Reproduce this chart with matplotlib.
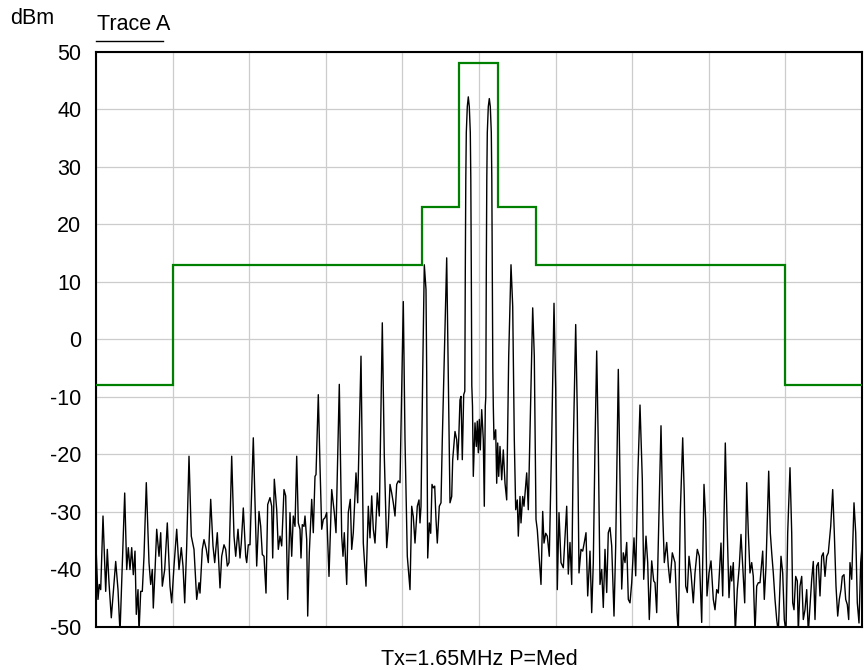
import matplotlib
matplotlib.use("Agg")
import matplotlib.pyplot as plt
from matplotlib.lines import Line2D

plt.rcParams["font.family"] = ["Liberation Sans", "DejaVu Sans"]
plt.rcParams["axes.unicode_minus"] = False

# Measured spectrum (trace bin, level in dBm)
freq_bin = [
    0, 2, 3.3, 4.7, 7, 9.7, 11.3, 13, 15.3, 19.7, 22, 24, 28.7, 30.7, 32.3, 34, 35.7, 37.3, 39, 40.3,
    42, 43, 44.7, 46.3, 48, 50.3, 53, 54.7, 56.3, 57.3, 59, 60.7, 63, 64.7, 66.3, 68.7, 71.3, 74, 75.7, 78,
    80.7, 83, 85.3, 87, 88.7, 90.7, 93, 95.3, 98, 100.7, 103, 104, 106.3, 108, 110.3, 112.3, 114.7, 117, 118.7, 121.3,
    124, 125.7, 128, 129.7, 131.3, 133, 135.7, 138, 139.7, 142, 144, 145.3, 147.3, 149.7,
    150.7, 152.3, 154, 157.3, 160.7, 163, 164.7, 166.3, 168, 170, 171.7, 174, 175.7, 176.7, 178.3, 180.7, 182.3, 184, 185.7, 188,
    189.7, 191.7, 194, 195.7, 197.3, 199, 200.7, 202.3, 204, 205, 206.3, 208, 209, 210.7, 211.7, 213.3, 215.7, 217.3, 219, 220,
    222.3, 224, 225.7, 227.3, 229, 230.7, 233, 235.7, 238.3, 240, 243.3, 245.7, 247, 248.3, 250.7, 252.3, 254.3, 255.7, 257.3, 260,
    261.7, 265, 267.3, 270, 272.3, 274, 275.7, 277.3, 279, 281.3, 283.3, 286.3, 288.3, 290.7, 292.3, 294, 295.7, 297.3, 299, 300.7,
    302.3, 304,
    307.3, 309, 311.3, 314, 315.7, 317.3, 319, 321.3, 323, 324, 325, 326.7, 328.3, 330, 330.7, 331.7, 333.3, 334.7, 336, 337.3,
    338.7, 340, 341.3, 343.3, 345, 346.3, 348.3, 350.7, 352.3, 354, 355.7, 356.7, 359, 360.7, 361.7, 362.7, 364, 365, 366.3, 367.7,
    368.8, 369.3, 369.8, 370.3, 371.3, 372.3, 373.3, 374.3, 374.8, 375.3, 375.8, 376.5, 377.3, 379, 380.3, 381.3, 382.3, 383.3, 384.3, 385.7,
    387.3, 388.3, 389.3, 389.8, 390.3, 390.8, 391.3, 392.3, 393.3, 394.3, 395.3, 395.8, 396.3, 396.8, 397.3, 398, 399.7, 400.7, 401.7, 402.7,
    404, 405.7, 407.3, 409, 410.7, 412.7, 415, 416.7, 418.3, 419.7, 421.3, 422.3, 424, 425, 426.7, 428, 429.3, 430.7, 432.3, 434,
    436.7, 438.3, 440, 441.3, 443.3, 445, 446.7, 448, 449.7, 451.3, 453.3, 455.7, 458, 459.7, 461.3,
    463, 465, 467.3, 470.7, 472.3, 474, 475.7, 477.3, 479.7, 481.3, 483, 485, 486.7, 488.3, 490, 491.7, 494, 495.7, 497.3, 499,
    500.7, 502.3, 504, 505.7, 507.3, 509, 510.7, 512.3, 514, 515.7, 518, 519.7, 522.3, 524, 525.7, 527.3, 529, 530.7, 532.3, 534,
    535.7, 538, 539.7, 541.7, 544, 546.3, 547.7, 550, 551.7, 553.3, 555.7, 557.7, 559, 560.7, 563, 565, 566.7, 568.3, 570.7, 572.3,
    574, 576.3, 579, 581, 582.3, 584.3, 586.7, 588.3, 589.7, 591.3, 593, 595, 597.3, 599, 601.3, 603.3, 605.7, 608, 609.7, 611,
    613, 615,
    617.3, 619, 620.7, 622.3, 625, 626.7, 629.3, 631.3, 633, 634.7, 635.7, 637.3, 639.3, 641.3, 643.3, 645, 646.7, 648.7, 650.7, 652.3,
    654, 655.7, 657.3, 659, 660.7, 662.3, 664, 666.7, 668.3, 670, 672.7, 674.3, 675.7, 677.3, 679, 680.7, 682.3, 685, 686.7, 688.3,
    690, 691.7, 694, 695.7, 696.7, 698, 699.7, 701.3, 702.3, 704, 705.7, 707.3, 709, 710.7, 712.3, 714, 715.7, 717.3, 719, 720.7,
    722.3, 724, 725.7, 727.3, 729, 730.7, 732.3, 734.7, 736.7, 738.3, 740, 741.7, 743.3, 745, 746.3, 748, 749.7, 751.3, 752.7, 754,
    755.7, 758, 759.7, 761.3, 763, 764.7, 766,
]
level_dbm = [
    -35.9, -45.2, -42.6, -43.5, -30.7, -43.8, -36.5, -42.3, -48.4, -38.6, -43.5, -51, -26.7, -40, -36.2, -40, -36.2, -40.9, -36.8, -47.8,
    -43.5, -51, -43.8, -43.8, -37.7, -24.9, -38.8, -42.6, -40, -46.7, -40.3, -33, -37.7, -33.6, -42.9, -40, -31.9, -42.9, -45.8, -39.4,
    -33, -40, -36.2, -39.4, -45.8, -35.9, -20.3, -34.2, -36.5, -45.2, -42.3, -44.1, -36.5, -34.8, -36.5, -38.8, -27.8, -35.9, -38.8, -33.6,
    -43.2, -37.7, -35.7, -36.5, -39.4, -38.8, -20.3, -34.2, -37.7, -33, -38, -35.4, -29.3, -37.7,
    -38.8, -35.7, -35.7, -17.1, -39.4, -29.9, -32.5, -37.4, -37.7, -44.1, -28.7, -27.5, -29, -38, -24.3, -29.6, -36.5, -34.2, -35.9, -26.1,
    -27.2, -45.2, -30.1, -37.7, -30.7, -32.5, -20.3, -31.9, -33, -38, -32.2, -32.5, -30.7, -34.8, -48.1, -37.1, -27.8, -33.6, -23.8, -23.5,
    -9.6, -22, -33, -31.3, -31, -30.1, -41.2, -26.1, -30.1, -33.6, -7.8, -34.2, -37.7, -33.6, -42.6, -30.1, -27.8, -36.5, -33.6, -23.2,
    -28.4, -2.9, -35.4, -42.9, -29, -34.5, -27.2, -33, -35.4, -26.7, -30.7, 2.9, -20.3, -36.2, -32.5, -25.2, -26.7, -28.4, -30.7, -25.2,
    -24.6, -24.9,
    6.6, -17.4, -37.7, -43.5, -29, -30.8, -35.4, -29, -27.9, -31.9, -29, -5.8, 13, 8.7, -5.8, -38, -31.9, -33.7, -25.2, -25.8,
    -25.5, -31.3, -35.4, -29, -28.4, -17.4, -2.9, 14.2, -5.8, -28.4, -27.3, -20.9, -16, -17.4, -20.9, -17.4, -10.5, -9.9, -20.9, -9.6,
    -9, 12, 28, 36, 40.5, 42.2, 40.5, 36, 28, 12, -8, -11.6, -23.8, -14.5, -18.6, -14.2, -19.7, -13.9, -19.2, -12.2,
    -17.4, -29, -11.6, -10, 12, 28, 36, 40.5, 41.9, 40.5, 36, 28, 12, -5, -11.6, -17.4, -15.7, -25, -18, -23.8,
    -18.6, -24.4, -19.2, -25, -27.9, -2.9, 13, 5.8, -17.4, -29.6, -27.9, -34.2, -27.3, -31.9, -27.3, -29, -26.1, -23.2, -29.6, -15.7,
    5.5, -2.9, -31.3, -33.1, -38.3, -42.6, -29.9, -35.4, -33.7, -34.2, -37.7, -17.4, 6.3, -8.7, -43.5,
    -30.1, -38.8, -39.7, -29, -40.8, -35.3, -42.6, -18.5, 2.6, -12.7, -40.6, -36.5, -36.8, -35.3, -33.6, -44.6, -36.8, -47.5, -38.8, -18.5,
    -2, -18.5, -42.6, -40, -46.6, -36.5, -44, -33.6, -32.7, -35.9, -48.1, -35.9, -5.2, -24.3, -43.4, -37.1, -38.8, -35.3, -45.2, -45.8,
    -42.3, -34.5, -41.1, -24.3, -11.4, -24.3, -41.7, -34.2, -38.8, -48.7, -38.5, -42, -42.3, -47.5, -30.1, -15, -30.1, -38.8, -35.3, -39.4,
    -42.3, -37.1, -38.8, -47.5, -51, -30.1, -17.1, -27.2, -42.9, -44, -37.7, -40.6, -45.8, -40.6, -36.5, -37.7, -49.2, -25.2, -31.3, -44.6,
    -40.6, -38.5,
    -45.2, -47, -43.5, -44.1, -35.4, -44.6, -18, -33.6, -44.9, -39.4, -42, -38.8, -51, -43.5, -39.4, -33.9, -39.4, -45.8, -24.9, -33.6,
    -40.6, -38.8, -41.2, -51, -42.9, -42.3, -42.3, -36.8, -45.2, -39.4, -22.9, -33.6, -37.1, -40.6, -45.2, -48.7, -51, -37.7, -40.6, -48.7,
    -51, -33.6, -22.3, -33.6, -45.8, -47, -41.2, -42, -51, -42.9, -41.2, -48.7, -47, -43.5, -51, -46.4, -41.7, -38.6, -48.7, -39.4,
    -38.8, -44.6, -37.7, -37.1, -41.2, -37.7, -37.1, -32.5, -26.1, -33.6, -42.9, -48.1, -45.2, -43.5, -41.2, -40.9, -45.2, -46.1, -48.7, -38.8,
    -41.7, -28.4, -33.6, -45.8, -49.3, -38.8, -36,
]

# Spectral emission limit mask
mask_edges = [0, 76.6, 325.7, 363.3, 402.2, 440.3, 689.4, 766]
mask_levels = [-8, 13, 23, 48, 23, 13, -8]

span_bins = 766
y_ticks = [50, 40, 30, 20, 10, 0, -10, -20, -30, -40, -50]

fig = plt.figure(figsize=(8.66, 6.70), dpi=100)
ax = fig.add_axes([96 / 866, 1 - 627 / 670, 766 / 866, 575 / 670])

ax.plot(freq_bin, level_dbm, color="black", lw=1.0, zorder=3)
ax.stairs(mask_levels, mask_edges, baseline=None, color="#008000", lw=1.6, zorder=4)

ax.set_xlim(0, span_bins)
ax.set_ylim(-50, 50)
ax.set_xticks([span_bins * k / 10 for k in range(11)])
ax.set_xticklabels([])
ax.set_yticks(y_ticks)
ax.set_yticklabels([str(t) for t in y_ticks], fontsize=15.5)
ax.tick_params(length=0, pad=10.5)
ax.grid(True, color="#cccccc", lw=0.9, zorder=0)
ax.set_axisbelow(True)
for sp in ax.spines.values():
    sp.set_linewidth(1.5)
    sp.set_color("black")

fig.text(10 / 866, 1 - 23.5 / 670, "dBm", fontsize=15.5, ha="left", va="baseline")
fig.text(97 / 866, 1 - 30 / 670, "Trace A", fontsize=15.5, ha="left", va="baseline")
fig.add_artist(Line2D([96 / 866, 163 / 866], [1 - 41 / 670, 1 - 41 / 670],
                      transform=fig.transFigure, color="black", lw=1.0))
fig.text(479 / 866, 1 - 665 / 670, "Tx=1.65MHz P=Med", fontsize=15.5, ha="center", va="baseline")

fig.savefig("out.png", dpi=100)
